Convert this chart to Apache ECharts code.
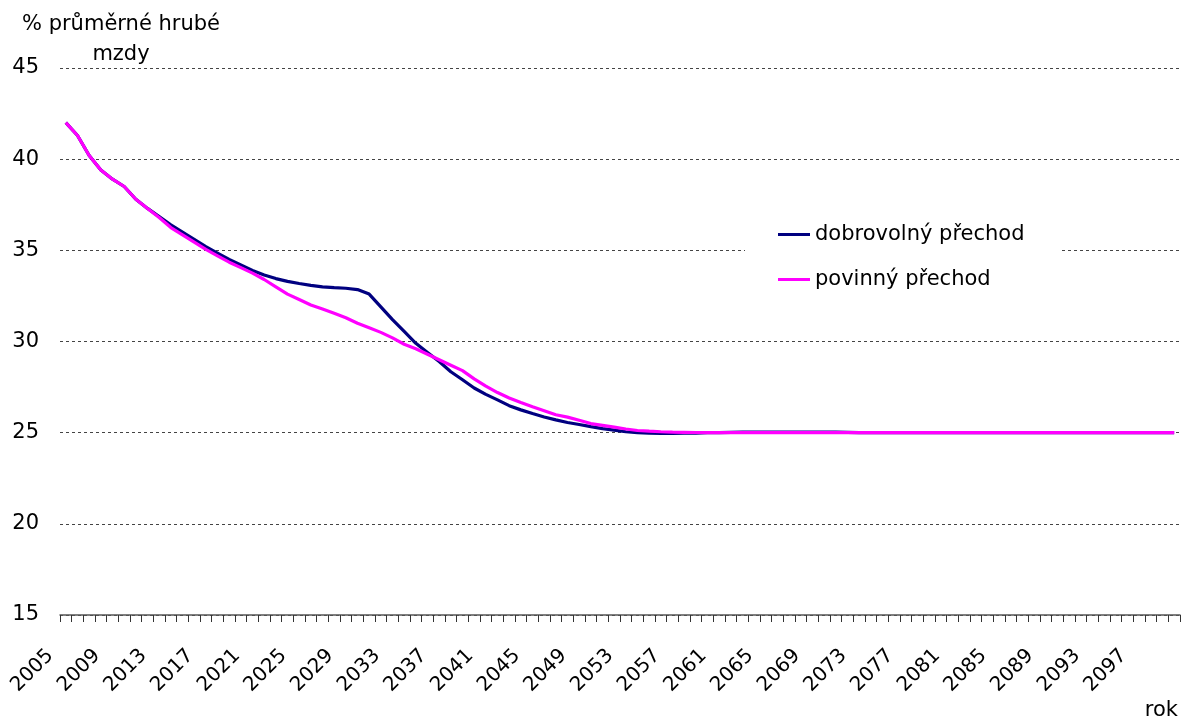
<!DOCTYPE html>
<html>
<head>
<meta charset="utf-8">
<script src="https://cdn.jsdelivr.net/npm/echarts@6/dist/echarts.min.js"></script>
<style>
html,body{margin:0;padding:0;background:#fff;}
#chart{width:1182px;height:720px;}
</style>
</head>
<body>
<div id="chart"></div>
<script>
// Categories: years 2005–2100
var years = [];
for (var yr = 2005; yr <= 2100; yr++) years.push(String(yr));

// % průměrné hrubé mzdy — dobrovolný přechod (2005–2100)
var dobrovolny = [
  42.0, 41.3, 40.2, 39.4, 38.9, 38.5, 37.8, 37.3, 36.85, 36.4,
  36.0, 35.6, 35.2, 34.85, 34.5, 34.2, 33.9, 33.65, 33.45, 33.3,
  33.18, 33.08, 33.0, 32.95, 32.92, 32.85, 32.6, 31.9, 31.2, 30.55,
  29.9, 29.4, 28.9, 28.34, 27.9, 27.45, 27.1, 26.8, 26.48, 26.25,
  26.05, 25.86, 25.7, 25.56, 25.45, 25.33, 25.22, 25.14, 25.05, 25.0,
  24.97, 24.96, 24.96, 24.97, 24.98, 25.0, 25.0, 25.02, 25.03, 25.03,
  25.03, 25.03, 25.03, 25.03, 25.03, 25.03, 25.03, 25.02, 25.0, 25.0,
  25.0, 25.0, 25.0, 25.0, 25.0, 25.0, 25.0, 25.0, 25.0, 25.0,
  25.0, 25.0, 25.0, 25.0, 25.0, 25.0, 25.0, 25.0, 25.0, 25.0,
  25.0, 25.0, 25.0, 25.0, 25.0, 25.0
];

// % průměrné hrubé mzdy — povinný přechod (2005–2100)
var povinny = [
  42.0, 41.3, 40.2, 39.4, 38.9, 38.5, 37.8, 37.3, 36.8, 36.25,
  35.85, 35.45, 35.05, 34.7, 34.35, 34.05, 33.75, 33.4, 33.0, 32.6,
  32.3, 32.0, 31.78, 31.55, 31.3, 31.0, 30.75, 30.5, 30.2, 29.85,
  29.6, 29.3, 29.0, 28.7, 28.4, 27.95, 27.55, 27.2, 26.9, 26.65,
  26.42, 26.2, 25.98, 25.85, 25.68, 25.5, 25.4, 25.3, 25.2, 25.12,
  25.08, 25.05, 25.03, 25.02, 25.01, 25.0, 25.0, 25.0, 25.0, 25.0,
  25.0, 25.0, 25.0, 25.0, 25.0, 25.0, 25.0, 25.0, 25.0, 25.0,
  25.0, 25.0, 25.0, 25.0, 25.0, 25.0, 25.0, 25.0, 25.0, 25.0,
  25.0, 25.0, 25.0, 25.0, 25.0, 25.0, 25.0, 25.0, 25.0, 25.0,
  25.0, 25.0, 25.0, 25.0, 25.0, 25.0
];

var seriesNames = ['dobrovolný přechod', 'povinný přechod'];
var yTicks = {min: 15, max: 45, step: 5};
var yAxisTitle = ['% průměrné hrubé', 'mzdy'];
var xAxisTitle = 'rok';

var FONT = '"DejaVu Sans", sans-serif';
var chart = echarts.init(document.getElementById('chart'), null, {renderer: 'canvas'});
chart.setOption({
  animation: false,
  backgroundColor: '#ffffff',
  grid: {left: 60, right: 2, top: 68, bottom: 105, containLabel: false},
  legend: {
    orient: 'vertical',
    left: 745,
    top: 212,
    padding: [12, 35, 12, 33],
    backgroundColor: '#ffffff',
    itemWidth: 32,
    itemHeight: 3,
    itemGap: 24,
    icon: 'rect',
    textStyle: {fontFamily: FONT, fontSize: 21, color: '#000'},
    data: seriesNames
  },
  xAxis: [
    {
      type: 'category',
      data: years,
      boundaryGap: true,
      axisLine: {show: true, onZero: false, lineStyle: {color: '#555', width: 1.5}},
      axisTick: {show: false},
      axisLabel: {
        interval: 3,
        rotate: 45,
        margin: 22,
        padding: [0, 22, 0, 0],
        fontFamily: FONT,
        fontSize: 20,
        color: '#000'
      },
      splitLine: {show: false}
    },
    {
      // one tick at every category boundary (2005–2100 → 96 slots)
      type: 'value',
      position: 'bottom',
      min: 0,
      max: years.length,
      interval: 1,
      axisLine: {show: false, onZero: false},
      axisTick: {show: true, inside: false, length: 7, lineStyle: {color: '#333', width: 1}},
      axisLabel: {show: false},
      splitLine: {show: false}
    }
  ],
  yAxis: {
    type: 'value',
    min: yTicks.min,
    max: yTicks.max,
    interval: yTicks.step,
    axisLine: {show: false},
    axisTick: {show: false},
    axisLabel: {margin: 21, fontFamily: FONT, fontSize: 21, color: '#000'},
    splitLine: {show: true, lineStyle: {color: '#444', width: 1, type: [3, 3]}}
  },
  graphic: [
    {type: 'text', x: 121, y: 25, style: {text: yAxisTitle[0], fontFamily: FONT, fontSize: 21, fill: '#000', align: 'center', verticalAlign: 'middle'}},
    {type: 'text', x: 121, y: 55, style: {text: yAxisTitle[1], fontFamily: FONT, fontSize: 21, fill: '#000', align: 'center', verticalAlign: 'middle'}},
    {type: 'text', x: 1178, y: 711, style: {text: xAxisTitle, fontFamily: FONT, fontSize: 21, fill: '#000', align: 'right', verticalAlign: 'middle'}}
  ],
  series: [
    {
      name: seriesNames[0],
      type: 'line',
      xAxisIndex: 0,
      data: dobrovolny,
      showSymbol: false,
      symbol: 'none',
      itemStyle: {color: '#000080'},
      lineStyle: {color: '#000080', width: 3.2},
      z: 2
    },
    {
      name: seriesNames[1],
      type: 'line',
      xAxisIndex: 0,
      data: povinny,
      showSymbol: false,
      symbol: 'none',
      itemStyle: {color: '#ff00ff'},
      lineStyle: {color: '#ff00ff', width: 3.2},
      z: 3
    }
  ]
});
</script>
</body>
</html>
